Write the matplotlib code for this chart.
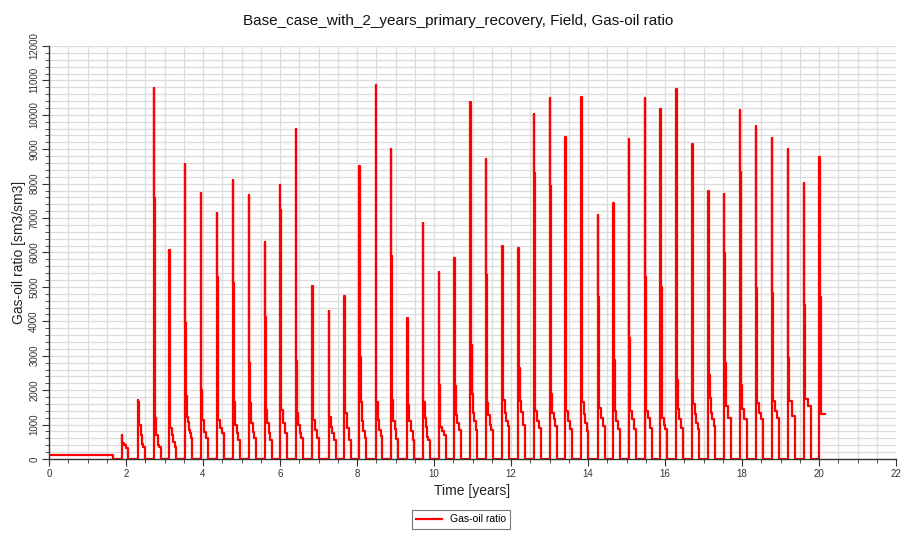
import matplotlib
matplotlib.use("Agg")
import matplotlib.pyplot as plt
from matplotlib.ticker import MultipleLocator

plt.rcParams['font.family'] = ['Liberation Sans', 'DejaVu Sans']

# ---- data ----
initial_level = 125          # sm3/sm3 during primary recovery
initial_end = 1.65           # years
cycle_starts = [1.888, 2.304, 2.727, 3.125, 3.532, 3.940, 4.364, 4.771, 5.187, 5.603,
                6.000, 6.408, 6.839, 7.265, 7.670, 8.060, 8.481, 8.883, 9.306, 9.706,
                10.122, 10.527, 10.943, 11.351, 11.774, 12.190, 12.597, 13.005, 13.410, 13.826,
                14.260, 14.657, 15.057, 15.473, 15.878, 16.294, 16.709, 17.125, 17.532, 17.948,
                18.356, 18.771, 19.187, 19.603, 20.008]
cycle_levels = [
    [700, 455, 400, 330],
    [1700, 1650, 1000, 700, 450, 360],
    [10770, 7570, 1180, 700, 400, 350],
    [6070, 2200, 890, 700, 500, 360],
    [8560, 3940, 1840, 1230, 1080, 840, 745, 600],
    [7730, 6700, 2000, 1130, 790, 600],
    [7160, 5300, 2840, 1130, 890, 745],
    [8100, 6170, 5100, 1670, 990, 745, 550],
    [7680, 6070, 2780, 1620, 1040, 790, 600],
    [6300, 4570, 4130, 3940, 1420, 1040, 745, 550],
    [7960, 7230, 4090, 2150, 1420, 1040, 745],
    [9590, 7380, 2840, 1330, 990, 745, 600],
    [5020, 2490, 1130, 840, 600],
    [4310, 1230, 940, 745, 550],
    [4740, 3340, 2350, 1330, 890, 550],
    [8500, 6320, 5690, 2970, 1650, 1090, 800, 620],
    [10880, 3030, 1650, 1130, 850, 670],
    [9010, 5890, 1720, 1100, 870, 580],
    [4090, 1580, 1100, 800, 560],
    [6860, 2300, 1660, 1180, 940, 650, 550],
    [5430, 3610, 2160, 940, 800, 700],
    [5840, 3560, 2790, 2110, 1280, 1040, 850],
    [10370, 10140, 7260, 3320, 1880, 1330, 1090, 850],
    [8710, 5350, 1640, 1290, 1000, 850],
    [6180, 4390, 3420, 1720, 1330, 1090, 950],
    [6140, 3710, 3180, 2640, 1680, 1380, 1000],
    [10020, 8310, 4190, 2690, 1390, 1100, 900],
    [10500, 9640, 7920, 3100, 1880, 1340, 1150, 950],
    [9370, 7530, 2060, 1400, 1100, 860],
    [10530, 8640, 5060, 1650, 1300, 1050, 820],
    [7080, 4720, 2010, 1490, 1200, 960],
    [7430, 5810, 3030, 2890, 1400, 1100, 860],
    [9290, 5790, 3510, 2010, 1400, 1150, 860],
    [10480, 10140, 5300, 2350, 1400, 1200, 910],
    [10170, 9320, 5210, 5010, 2250, 1200, 1000, 860],
    [10740, 9540, 5030, 2300, 1440, 1150, 910],
    [9160, 8160, 5300, 1590, 1300, 1050, 860],
    [7800, 7340, 4970, 2450, 1780, 1340, 1150, 950],
    [7690, 5980, 4720, 4240, 2790, 2110, 1540, 1200],
    [10150, 8350, 5260, 3560, 2160, 1440, 1150],
    [9680, 7680, 4970, 2640, 1640, 1340, 1150],
    [9340, 7340, 4820, 2690, 1680, 1390, 1200],
    [9020, 4270, 2930, 1680, 1250],
    [8030, 6370, 4480, 2500, 1730, 1540],
    [8780, 6970, 4970, 4720, 4140, 2210, 1300],
]
cycle_durations = [0.16] + [0.18] * 43 + [0.15]
sim_end = 20.16

x_ticks = [0, 2, 4, 6, 8, 10, 12, 14, 16, 18, 20, 22]
y_ticks = [0, 1000, 2000, 3000, 4000, 5000, 6000, 7000, 8000, 9000, 10000, 11000, 12000]

# ---- build step series ----
t = [0.0, initial_end]
v = [initial_level, 0.0]
fast_dt = 0.008
for k, (t0, levels, dur) in enumerate(zip(cycle_starts, cycle_levels, cycle_durations)):
    n_fast = sum(1 for L in levels[:-1] if L >= 2000)
    n_fast = max(n_fast, 1)
    rest = len(levels) - n_fast
    tt = t0
    for i, L in enumerate(levels):
        t.append(tt)
        v.append(L)
        if i < n_fast:
            tt += fast_dt
        else:
            tt += (dur - n_fast * fast_dt) / rest
    if k < len(cycle_starts) - 1:
        t.append(t0 + dur)
        v.append(0.0)
    else:
        t.append(sim_end)
        v.append(levels[-1])

# ---- figure ----
fig = plt.figure(figsize=(9.17, 5.39), dpi=100)
ax = fig.add_axes([49 / 917, 1 - 459 / 539, (896 - 49) / 917, (459 - 46) / 539])

line, = ax.plot(t, v, drawstyle='steps-post', color='#ff0000', lw=1.6,
                label='Gas-oil ratio')

ax.set_xlim(0, 22)
ax.set_ylim(0, 12000)
ax.set_xticks(x_ticks)
ax.set_yticks(y_ticks)
ax.xaxis.set_minor_locator(MultipleLocator(0.5))
ax.yaxis.set_minor_locator(MultipleLocator(200))
ax.grid(True, which='both', color='#dcdcdc', lw=0.9)
ax.set_axisbelow(True)

for s in ['top', 'right']:
    ax.spines[s].set_visible(False)
for s in ['left', 'bottom']:
    ax.spines[s].set_color('#333333')
    ax.spines[s].set_linewidth(1.0)

ax.tick_params(axis='both', which='major', length=5, width=0.8, color='#333333',
               labelsize=7, labelcolor='#333333', pad=2)
ax.tick_params(axis='both', which='minor', length=3, width=0.6, color='#333333')
for lab in ax.get_yticklabels():
    lab.set_rotation(90)
    lab.set_va('center')

ax.set_xlabel('Time [years]', fontsize=10, color='#222222', labelpad=4)
ax.set_ylabel('Gas-oil ratio [sm3/sm3]', fontsize=10, color='#222222', labelpad=2)

fig.text(0.5, 1 - 21 / 539, 'Base_case_with_2_years_primary_recovery, Field, Gas-oil ratio',
         ha='center', va='center', fontsize=11, color='#111111')

leg = fig.legend(handles=[line], loc='center', bbox_to_anchor=(461 / 917, 1 - 519.5 / 539),
                 fontsize=7.5, frameon=True, fancybox=False, edgecolor='#555555',
                 handlelength=2.5, borderpad=0.4)
leg.get_frame().set_linewidth(0.8)

fig.savefig('out.png', dpi=100)
